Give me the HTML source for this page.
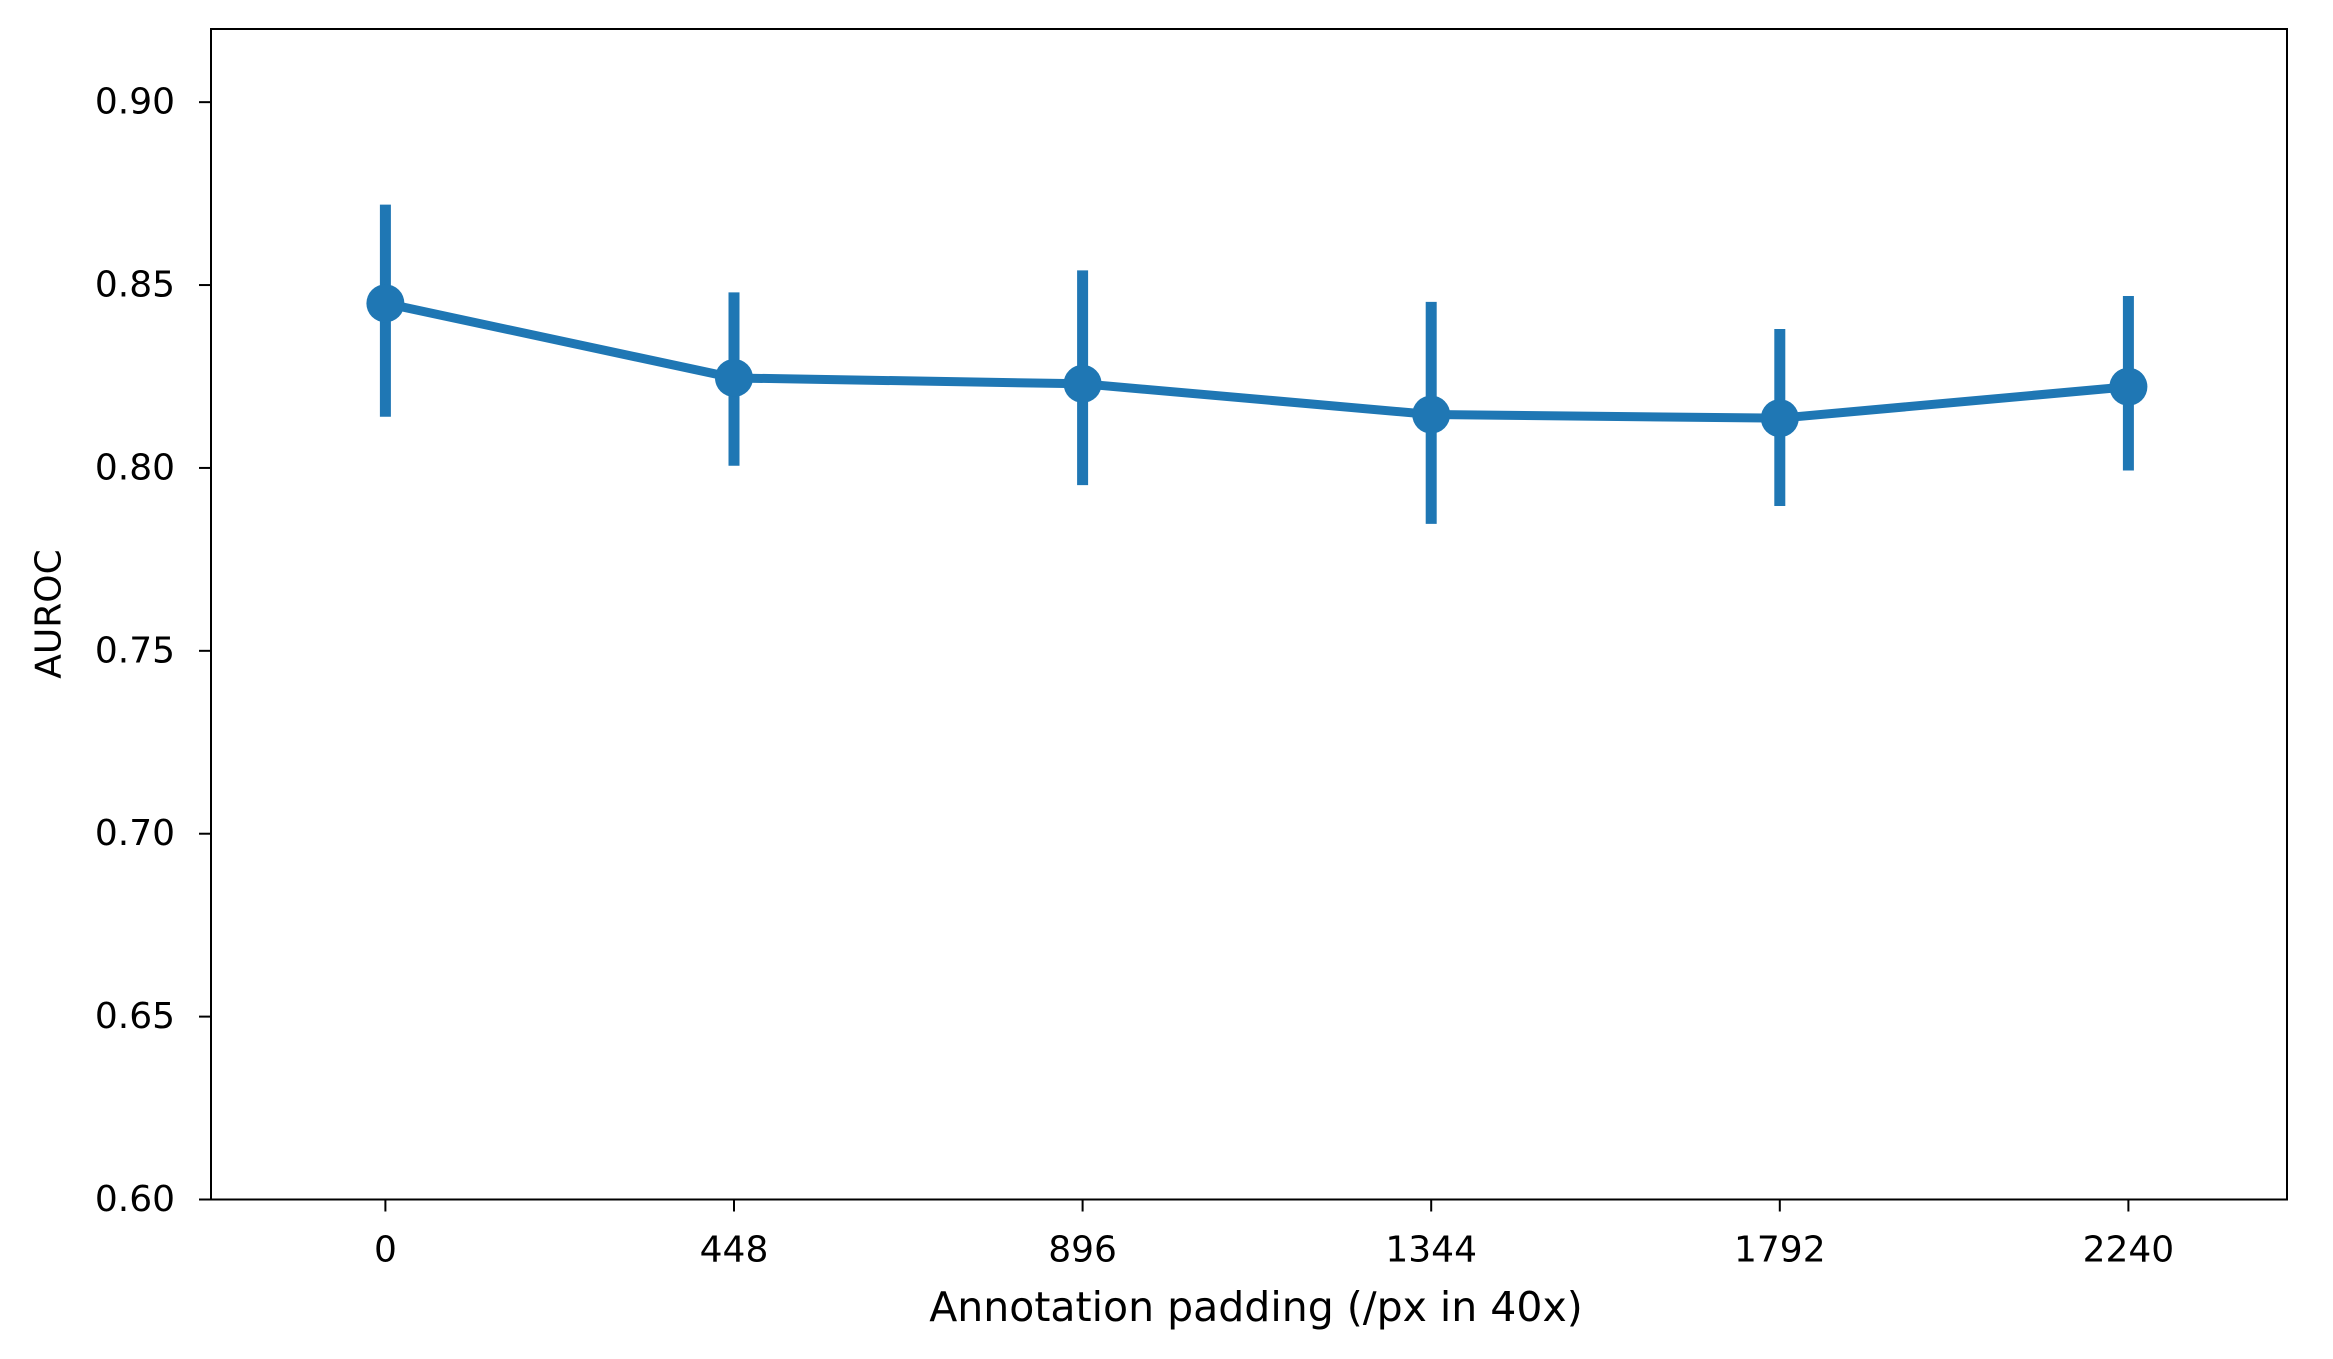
<!DOCTYPE html>
<html><head><meta charset="utf-8"><style>
html,body{margin:0;padding:0;background:#fff;}
svg{display:block;font-family:"DejaVu Sans","Liberation Sans",sans-serif;}
</style></head><body>
<svg id="chart" width="2333" height="1359" viewBox="0 0 2333 1359" xmlns="http://www.w3.org/2000/svg">
<rect width="2333" height="1359" fill="#fff"/>
<g id="marks"></g>
<g id="axes"></g>
<text x="49" y="614" font-size="36" text-anchor="middle" dominant-baseline="central" transform="rotate(-90 49 614)">AUROC</text>
<text x="1256" y="1307" font-size="41" text-anchor="middle" dominant-baseline="central">Annotation padding (/px in 40x)</text>
</svg>
<script>
const categories = ["0","448","896","1344","1792","2240"];
const means = [0.845, 0.8246, 0.823, 0.8146, 0.8136, 0.8222];
const ciLow = [0.814, 0.8006, 0.7953, 0.7847, 0.7896, 0.7993];
const ciHigh = [0.872, 0.848, 0.854, 0.8454, 0.838, 0.847];
const yTicks = [0.60, 0.65, 0.70, 0.75, 0.80, 0.85, 0.90];
const yTickLabels = ["0.60","0.65","0.70","0.75","0.80","0.85","0.90"];

const L=211, R=2287, T=29, B=1199.5;
const yMin=0.6, yMax=0.92;
const X0=385.4, DX=348.6;
const NS="http://www.w3.org/2000/svg";
function xs(i){ return X0 + i*DX; }
function ys(v){ return B - (v-yMin)/(yMax-yMin)*(B-T); }
function mk(tag, attrs, parent){ const e=document.createElementNS(NS,tag); for(const k in attrs) e.setAttribute(k,attrs[k]); parent.appendChild(e); return e; }
const marks=document.getElementById('marks'), axes=document.getElementById('axes');
const C="#1f77b4";
for(let i=0;i<categories.length;i++){
  const e=mk('line',{x1:xs(i),x2:xs(i),y1:ys(ciLow[i]),y2:ys(ciHigh[i]),stroke:C,'stroke-width':11},marks);
  
  
}
const pts=means.map((v,i)=>xs(i)+','+ys(v)).join(' ');
const pl=mk('polyline',{points:pts,fill:'none',stroke:C,'stroke-width':9,'stroke-linejoin':'round'},marks);


for(let i=0;i<means.length;i++){
  const c=mk('circle',{cx:xs(i),cy:ys(means[i]),r:19,fill:C},marks);
  
  
}
const fr=mk('rect',{x:L,y:T,width:R-L,height:B-T,fill:'none',stroke:'#000','stroke-width':2},axes);


yTicks.forEach((v,i)=>{
  const y=ys(v);
  const t=mk('line',{x1:L-12,x2:L,y1:y,y2:y,stroke:'#000','stroke-width':2},axes);
  
  
  const tx=mk('text',{x:175,y:y,'font-size':36,'text-anchor':'end','dominant-baseline':'central'},axes);
  tx.textContent=yTickLabels[i];
  
  
});
categories.forEach((c,i)=>{
  const x=xs(i);
  const t=mk('line',{x1:x,x2:x,y1:B,y2:B+12,stroke:'#000','stroke-width':2},axes);
  
  
  const tx=mk('text',{x:x,y:1250,'font-size':36,'text-anchor':'middle','dominant-baseline':'central'},axes);
  tx.textContent=c;
  
  
});
</script>
</body></html>
